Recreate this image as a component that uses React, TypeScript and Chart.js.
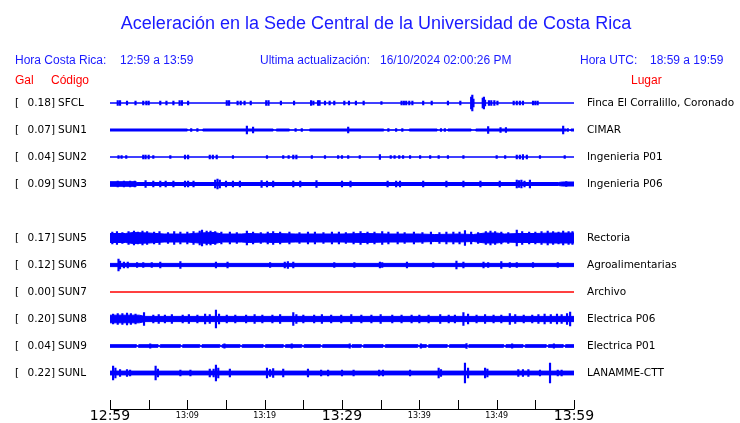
import React, { useEffect, useRef } from 'react';
import { Chart, registerables } from 'chart.js';
Chart.register(...registerables);

// ---- data ----
const codes = ['SFCL', 'SUN1', 'SUN2', 'SUN3', 'SUN5', 'SUN6', 'SUN7', 'SUN8', 'SUN9', 'SUNL'];
const galValues = [0.18, 0.07, 0.04, 0.09, 0.17, 0.12, 0.0, 0.2, 0.04, 0.22];
const places = [
  'Finca El Corralillo, Coronado', 'CIMAR', 'Ingenieria P01', 'Ingenieria P06', 'Rectoria',
  'Agroalimentarias', 'Archivo', 'Electrica P06', 'Electrica P01', 'LANAMME-CTT',
];
const slots = [0, 1, 2, 3, 5, 6, 7, 8, 9, 10]; // SUN4 slot empty
const timeLabels = ['12:59', '13:09', '13:19', '13:29', '13:39', '13:49', '13:59'];
const traceSpacing = 27; // amplitude units between trace baselines

// envelope breakpoints [minute, half amplitude]
const sfclEnv = [[0, 0], [60, 0]];
const sun1Base = 1.0;
const sun1Gaps = [[10, 12], [21.1, 21.5], [23.2, 25.8], [35.4, 38.7], [42.3, 43.7], [46.7, 47.3], [59, 59.6]];
const sun2Env = [[0, 0], [60, 0]];
const sun3Env = [[0, 2.3], [3.4, 2.3], [3.5, 1.5], [58, 1.5], [58.5, 2.0], [60, 2.0]];
const sun5Env = [[0, 4.5], [2, 4.5], [3, 5.5], [5, 5], [7, 4], [10, 4], [11.5, 5], [13.5, 5.5], [14.5, 4], [17, 4], [18, 4.5], [20, 4], [21, 4.5], [24, 4], [30, 4], [33, 4.5], [36, 4], [40, 4], [42, 3.5], [45, 4], [47, 3.5], [48.5, 5], [50, 5], [51, 4], [53, 4.5], [55, 4.5], [57, 5], [60, 5]];
const sun6Env = [[0, 1.6], [60, 1.6]];
const sun7Env = [[0, 0], [60, 0]];
const sun8Env = [[0, 3.8], [3.8, 3.8], [4.5, 2.6], [60, 2.6]];
const sun9Base = 1.3;
const sun9Gaps = [[3.4, 3.7], [6.2, 6.5], [9.1, 9.4], [11.6, 11.9], [14.2, 14.5], [16.8, 17.1], [19.8, 20.1], [22.4, 22.7], [24.8, 25.1], [27.2, 27.5], [31.0, 31.3], [32.5, 32.8], [35.3, 35.6], [39.8, 40.1], [40.9, 41.2], [43.6, 43.9], [46.1, 46.4], [50.9, 51.2], [53.4, 53.7], [56.4, 56.7], [58.6, 58.9]];
const sunlEnv = [[0, 1.9], [60, 1.9]];

// spikes [minute, half amplitude]
const sfclSpikes = [[1.0, 2.5], [1.3, 2.5], [2.2, 2], [3.3, 2], [4.3, 2], [4.7, 2], [5.0, 2], [6.5, 2], [7.3, 2], [8.2, 2], [9.0, 2.5], [9.3, 2.5], [10.1, 2], [15.1, 2.5], [15.4, 2.5], [16.5, 2], [16.9, 2], [17.4, 2], [18.2, 2], [20.2, 2.5], [20.5, 2.5], [22.1, 2], [23.8, 2], [26.0, 2.5], [26.3, 2], [26.9, 2.5], [27.1, 2.5], [27.8, 2], [28.4, 2], [29.0, 2], [30.3, 2], [30.9, 2], [31.8, 2], [32.8, 2], [35.1, 1.5], [37.7, 2], [38.0, 2], [38.3, 2], [38.7, 2], [39.1, 2], [40.5, 2], [41.6, 2], [43.7, 2], [45.3, 2], [46.7, 6], [46.85, 8], [47.0, 4], [48.2, 5], [48.35, 6], [48.5, 3], [49.0, 2.5], [49.3, 2.5], [49.7, 2.5], [50.1, 2], [52.2, 2], [52.6, 2], [53.0, 2], [53.4, 2], [54.7, 2], [55.0, 2], [55.3, 2]];
const sun1Spikes = [[17.7, 4], [18.5, 3], [30.8, 3], [48.9, 3.5], [58.6, 4], [10.5, 1.5], [11.3, 1.5], [24.0, 1.5], [24.8, 1.5], [36.0, 1.5], [37.0, 1.5], [37.8, 1.5], [42.8, 1.5], [43.3, 1.5], [50.5, 2.5], [51.2, 2.5], [59.2, 1.5]];
const sun2Spikes = [[1.1, 1.5], [1.5, 1.5], [2.1, 1.5], [4.3, 2], [4.6, 2], [5.0, 2], [5.6, 1.5], [7.8, 1.5], [9.7, 2], [10.1, 2], [12.9, 2], [13.3, 2], [13.8, 2], [15.9, 1.5], [20.3, 1.5], [22.4, 1.5], [23.1, 1.5], [23.7, 2], [24.1, 2], [26.1, 1.5], [27.8, 1.5], [29.5, 1.5], [30.0, 1.5], [30.8, 1.5], [32.3, 1.5], [34.9, 2.5], [36.3, 1.5], [36.8, 1.5], [37.4, 1.5], [37.9, 1.5], [38.8, 1.5], [40.1, 1.5], [41.4, 1.5], [42.5, 1.5], [43.7, 1.5], [45.7, 1.5], [50.0, 1.5], [51.1, 1.5], [52.6, 2], [53.0, 2], [53.4, 2.5], [53.9, 2], [55.6, 1.5], [58.8, 1.5]];
const sun3Spikes = [[1.0, 3], [1.8, 3], [2.6, 3], [3.2, 3], [4.6, 3.5], [5.6, 3], [6.5, 3], [7.2, 3], [8.2, 3], [9.7, 3], [10.1, 3], [10.8, 3], [13.6, 4], [13.9, 5], [14.2, 4], [15.0, 3], [15.9, 3], [16.8, 3], [19.6, 3.5], [20.3, 3], [21.1, 3], [23.7, 3], [24.6, 3], [26.7, 3.5], [30.0, 3], [31.1, 3], [35.9, 3], [37.0, 3], [37.5, 3], [40.5, 3], [43.5, 3], [45.7, 3], [47.9, 3], [50.4, 3], [52.6, 4], [52.9, 3.5], [53.2, 4], [53.6, 3], [54.3, 4], [59.0, 2.5]];
const sun5Spikes = [[0.3, 6], [0.9, 6.5], [1.6, 5.5], [2.4, 6.5], [3.1, 7], [3.6, 6], [4.2, 7], [4.8, 6.5], [5.7, 6], [6.4, 6.5], [7.5, 5.5], [8.3, 6.5], [9.1, 6], [10.0, 6], [10.8, 6.5], [11.6, 7], [11.9, 8], [12.5, 7], [13.0, 7], [13.6, 6.5], [14.4, 6], [15.5, 6], [16.4, 5.5], [17.7, 7], [18.5, 6], [19.5, 5.5], [20.4, 6], [21.1, 6.5], [22.0, 6], [23.2, 6], [24.5, 5.5], [25.6, 6], [26.5, 6], [27.6, 5.5], [28.7, 6], [29.6, 6], [30.5, 5.5], [31.5, 6], [32.4, 6.5], [33.3, 6], [34.2, 6], [35.2, 6.5], [36.0, 6], [37.2, 6], [38.1, 5.5], [39.3, 6], [40.4, 5.5], [41.5, 6], [42.6, 5.5], [43.5, 6], [44.4, 6], [45.2, 6], [45.9, 7.5], [46.7, 6], [47.6, 5.5], [48.6, 6.5], [49.2, 7], [49.8, 6.5], [50.6, 6], [51.5, 5.5], [52.6, 8], [53.3, 6.5], [54.2, 6], [55.0, 6], [55.8, 6.5], [56.6, 7], [57.3, 6.5], [58.0, 6], [58.6, 7], [59.3, 6.5], [59.8, 6.5]];
const sun6Spikes = [[1.1, 6], [1.3, 4], [1.8, 3], [2.3, 3], [3.5, 2.5], [4.3, 2.5], [5.4, 2.5], [6.5, 3], [9.1, 3.5], [13.7, 3], [15.2, 3], [20.7, 2.5], [22.6, 3], [23.0, 3.5], [23.7, 3], [29.0, 2.5], [31.6, 2.5], [34.9, 3], [35.2, 2.5], [38.4, 3], [41.8, 2.5], [44.8, 4], [45.7, 3], [48.3, 3], [48.9, 2.5], [50.6, 3.5], [51.7, 2.5], [52.6, 2.5], [54.7, 2.5], [57.9, 2.5]];
const sun7Spikes: number[][] = [];
const sun8Spikes = [[0.4, 5], [1.0, 5.5], [1.6, 5.5], [2.2, 6], [2.7, 5.5], [3.3, 5], [4.4, 6.5], [5.6, 4], [6.3, 4.5], [7.1, 4], [8.0, 4.5], [9.4, 4], [10.2, 4.5], [11.3, 4], [12.3, 5], [12.9, 4.5], [13.7, 9], [14.1, 5], [15.1, 4], [16.2, 4], [17.6, 4], [18.7, 4.5], [19.7, 4], [21.0, 4], [22.0, 4.5], [23.7, 6.5], [24.1, 4.5], [25.0, 4], [26.4, 4], [27.4, 4.5], [28.6, 4], [29.9, 4], [31.2, 4.5], [32.5, 4], [33.8, 4], [35.0, 4.5], [36.5, 4], [37.7, 4], [39.0, 4], [40.0, 4], [41.2, 4], [42.7, 4.5], [43.8, 4], [44.6, 4], [45.7, 6.5], [46.3, 5], [47.4, 4], [48.5, 4.5], [49.6, 4], [50.6, 4], [51.7, 5.5], [52.4, 4.5], [53.5, 4], [54.6, 4], [55.4, 4.5], [56.2, 5], [57.0, 4.5], [57.8, 5], [58.4, 4.5], [59.1, 5.5], [59.5, 7]];
const sun9Spikes = [[5.2, 2.2], [14.8, 2.2], [23.5, 2.2], [31.0, 2.2], [40.2, 2.2], [46.1, 2.4], [52.0, 2.2], [57.4, 2.2]];
const sunlSpikes = [[0.4, 7], [0.7, 5], [1.3, 3.5], [2.2, 3.5], [2.6, 3], [5.9, 7], [6.2, 4], [9.1, 3], [10.4, 3], [12.9, 4], [13.4, 4], [13.7, 8], [14.0, 5], [15.5, 4], [20.3, 5], [20.7, 3.5], [21.1, 4.5], [22.4, 4], [25.6, 4], [27.3, 3], [28.2, 3], [30.0, 3], [31.5, 3], [34.8, 3], [35.3, 3], [38.8, 3], [42.5, 5], [42.8, 3.5], [45.9, 10], [46.3, 5], [48.5, 5], [48.8, 4], [52.8, 3.5], [53.4, 3.5], [54.1, 3.5], [55.6, 3], [56.9, 10], [57.9, 3], [58.4, 3]];

// envelope with thinner gaps, built from base + gap list
function gapEnvelope(base: number, gaps: number[][], thin: number) {
  const pts: number[][] = [[0, base]];
  gaps.forEach(([s, e]) => { pts.push([s, base], [s, thin], [e, thin], [e, base]); });
  pts.push([60, base]);
  return pts;
}
const sun1Env = gapEnvelope(sun1Base, sun1Gaps, 0.2);
const sun9Env = gapEnvelope(sun9Base, sun9Gaps, 0.3);

const envelopes = [sfclEnv, sun1Env, sun2Env, sun3Env, sun5Env, sun6Env, sun7Env, sun8Env, sun9Env, sunlEnv];
const spikes = [sfclSpikes, sun1Spikes, sun2Spikes, sun3Spikes, sun5Spikes, sun6Spikes, sun7Spikes, sun8Spikes, sun9Spikes, sunlSpikes];
const traceColors = ['#0000ff', '#0000ff', '#0000ff', '#0000ff', '#0000ff', '#0000ff', '#ff0000', '#0000ff', '#0000ff', '#0000ff'];

const headerPlugin = {
  id: 'seismoText',
  afterDraw(chart: any) {
    const { ctx, scales, chartArea } = chart;
    const x = scales.x;
    const y = scales.y;
    ctx.save();
    // title
    ctx.fillStyle = '#1a1aff';
    ctx.font = '18px "Liberation Sans", Arial, sans-serif';
    ctx.textAlign = 'center';
    ctx.textBaseline = 'alphabetic';
    ctx.fillText('Aceleración en la Sede Central de la Universidad de Costa Rica', 376, 29);
    // header line
    ctx.font = '12px "Liberation Sans", Arial, sans-serif';
    ctx.textAlign = 'left';
    ctx.fillText('Hora Costa Rica:', 15, 64);
    ctx.fillText('12:59 a 13:59', 120, 64);
    ctx.fillText('Ultima actualización:', 260, 64);
    ctx.fillText('16/10/2024 02:00:26 PM', 380, 64);
    ctx.fillText('Hora UTC:', 580, 64);
    ctx.fillText('18:59 a 19:59', 650, 64);
    ctx.fillStyle = '#ff0000';
    ctx.fillText('Gal', 15, 84);
    ctx.fillText('Código', 51, 84);
    ctx.fillText('Lugar', 631, 84);
    // rows
    ctx.fillStyle = '#000';
    ctx.font = '10.5px "DejaVu Sans", sans-serif';
    ctx.textBaseline = 'middle';
    codes.forEach((code, i) => {
      const yc = y.getPixelForValue(slots[i] * traceSpacing);
      ctx.textAlign = 'left';
      ctx.fillText('[', 15, yc);
      ctx.textAlign = 'right';
      ctx.fillText(galValues[i].toFixed(2) + ']', 55, yc);
      ctx.textAlign = 'left';
      ctx.fillText(code, 58, yc);
      ctx.fillText(places[i], 587, yc);
    });
    // time axis
    const yb = chartArea.bottom;
    ctx.strokeStyle = '#000';
    ctx.lineWidth = 1;
    ctx.beginPath();
    ctx.moveTo(x.getPixelForValue(0), yb + 0.5);
    ctx.lineTo(x.getPixelForValue(60), yb + 0.5);
    for (let m = 0; m <= 60; m += 5) {
      const px = Math.round(x.getPixelForValue(m)) + 0.5;
      ctx.moveTo(px, yb + 0.5);
      ctx.lineTo(px, yb - 9);
    }
    ctx.stroke();
    ctx.restore();
  },
};

export default function App() {
  const ref = useRef<HTMLCanvasElement>(null);
  useEffect(() => {
    if (!ref.current) return;
    const datasets: any[] = [];
    envelopes.forEach((env, i) => {
      const base = slots[i] * traceSpacing;
      const color = traceColors[i];
      datasets.push({
        type: 'line',
        data: env.map(([m, a]) => ({ x: m, y: base - a })),
        borderColor: color, backgroundColor: color, borderWidth: 1, pointRadius: 0, tension: 0, fill: false,
      });
      datasets.push({
        type: 'line',
        data: env.map(([m, a]) => ({ x: m, y: base + a })),
        borderColor: color, backgroundColor: color, borderWidth: 1, pointRadius: 0, tension: 0, fill: '-1',
      });
      if (spikes[i].length) {
        datasets.push({
          type: 'bar',
          data: spikes[i].map(([m, a]) => ({ x: m, y: [base - a, base + a] })),
          backgroundColor: color, borderWidth: 0, barThickness: 1.5, grouped: false,
        });
      }
    });
    const chart = new Chart(ref.current, {
      type: 'bar',
      data: { datasets },
      options: {
        animation: false,
        responsive: false,
        devicePixelRatio: 1,
        events: [],
        layout: { padding: { left: 110, right: 166, top: 89.5, bottom: 0 } },
        plugins: { legend: { display: false }, tooltip: { enabled: false } },
        scales: {
          x: {
            type: 'linear', min: 0, max: 60, offset: false,
            grid: { display: false, drawTicks: false, tickLength: 0 }, border: { display: false },
            afterFit: (s: any) => { s.height = 14; },
            ticks: {
              stepSize: 5, autoSkip: false, maxRotation: 0, padding: -1, color: '#000',
              callback: (v: any) => (v % 10 === 0 ? timeLabels[v / 10] : ''),
              font: (c: any) => (c.tick && c.tick.value % 30 === 0
                ? { size: 14, family: '"DejaVu Sans", sans-serif', lineHeight: 1.2 }
                : { size: 8, family: '"DejaVu Sans", sans-serif', lineHeight: 1.9 }),
            },
          },
          y: { type: 'linear', display: false, reverse: true, min: -13.5, max: 306 },
        },
      },
      plugins: [headerPlugin],
    } as any);
    return () => chart.destroy();
  }, []);
  return (
    <div style={{ position: 'absolute', left: 0, top: 0, width: 740, height: 423, background: '#fff' }}>
      <canvas ref={ref} width={740} height={423} style={{ width: 740, height: 423 }} />
    </div>
  );
}
